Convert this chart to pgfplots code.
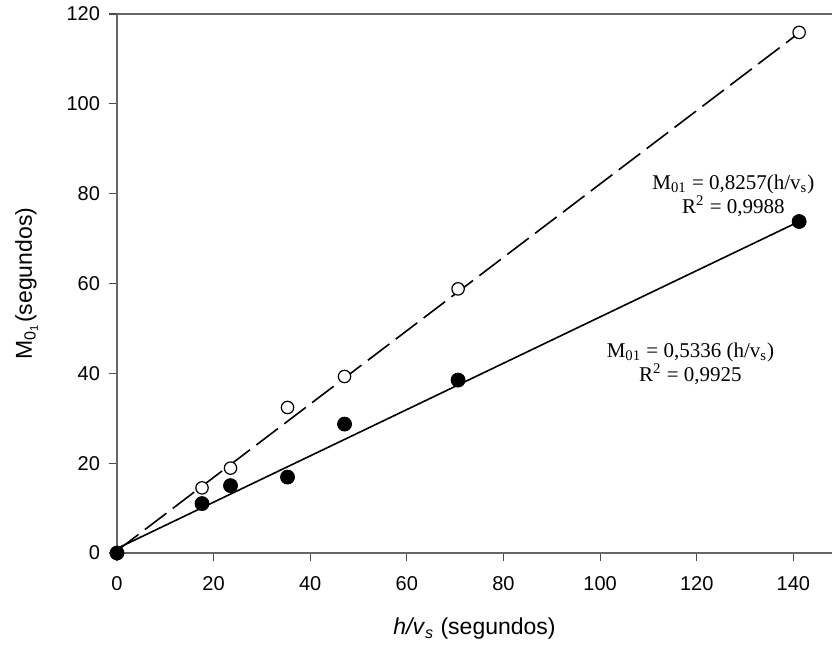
\documentclass[border=0pt]{standalone}
\usepackage{pgfplots}
\pgfplotsset{compat=1.18}
\usepackage{fontspec}
\setmainfont{Liberation Sans}
\newfontfamily\timesf{Liberation Serif}
\begin{document}
\begin{tikzpicture}
\begin{axis}[
  name=ax,
  scale only axis,
  width=357.5pt, height=269.5pt,
  xmin=0, xmax=148, ymin=0, ymax=120,
  axis x line*=box, axis y line*=left,
  xtick={0,20,...,140}, ytick={0,20,...,120},
  xtick pos=bottom, ytick pos=left,
  tick align=outside,
  major tick length=4pt,
  axis line style={black!60, line width=0.7pt},
  every tick/.style={black!70, line width=0.6pt},
  /pgf/number format/assume math mode=true,
  ticklabel style={font=\fontsize{10}{12}\selectfont},
  xticklabel style={yshift=-4pt},
  yticklabel style={xshift=-1pt},
  xlabel={\textit{h/v}\textsubscript{\textit{s}} (segundos)},
  ylabel={M\textsubscript{0\textsubscript{1}}(segundos)},
  label style={font=\fontsize{11.5}{13}\selectfont},
  xlabel style={at={(axis description cs:0.5,0)}, anchor=base, yshift=-41pt},
  ylabel style={at={(axis description cs:-0.119,0.5)}, anchor=base},
  clip=false,
]
% fitted lines
\addplot[black, line width=0.8pt, dash pattern=on 13.5pt off 4pt] coordinates {(0,0.5) (141.2,115.8)};
\addplot[black, line width=0.8pt] coordinates {(0,1) (141.2,73.8)};
% open circles
\addplot[only marks, mark=*, mark size=3.1pt, mark options={fill=white, draw=black, line width=0.6pt}]
  coordinates {(0,0) (17.6,14.5) (23.5,18.9) (35.3,32.4) (47.1,39.3) (70.6,58.8) (141.2,115.9)};
% filled circles
\addplot[only marks, mark=*, mark size=3.5pt, mark options={fill=black, draw=black}]
  coordinates {(0,0) (17.6,11.0) (23.5,15.0) (35.3,16.9) (47.1,28.7) (70.6,38.5) (141.2,73.8)};
\node[align=center, font=\timesf\fontsize{10.5}{11}\selectfont] at (axis cs:127.6,79.5)
  {M\textsubscript{01} = 0,8257(h/v\textsubscript{s})\\R\textsuperscript{2} = 0,9988};
\node[align=center, font=\timesf\fontsize{10.5}{11}\selectfont] at (axis cs:118.7,42.1)
  {M\textsubscript{01} = 0,5336 (h/v\textsubscript{s})\\R\textsuperscript{2} = 0,9925};
\end{axis}
\pgfresetboundingbox
\path ([xshift=-58.5pt,yshift=-48pt]ax.south west) rectangle ([yshift=7pt]ax.north east);
\end{tikzpicture}
\end{document}
